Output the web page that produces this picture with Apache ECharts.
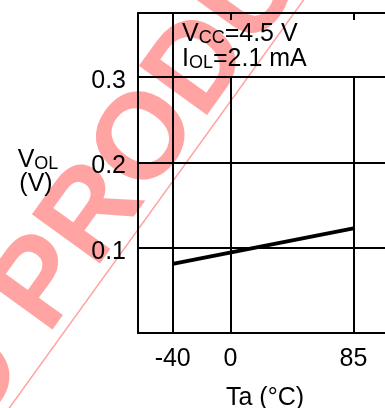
<!DOCTYPE html>
<html>
<head>
<meta charset="utf-8">
<script src="https://cdn.jsdelivr.net/npm/echarts@6/dist/echarts.min.js"></script>
<style>html,body{margin:0;padding:0;background:#fff}#c{width:385px;height:408px}</style>
</head>
<body>
<div id="c"></div>
<script>
// ---- data ----
const xTickValues = [-40, 0, 85];
const yTickValues = [0.1, 0.2, 0.3];
const temperatures = [-40, 85];
const volValues = [0.081, 0.1226];
const xAxisTitle = 'Ta (°C)';
const conditionLines = ['{a|V}{s|CC}{a|=4.5 V}', '{a|I}{s|OL}{a|=2.1 mA}'];
const watermarkWords = ['DISCONTINUED ', 'PRODUCT'];

const FONT = "'Liberation Sans', Arial, sans-serif";
const chart = echarts.init(document.getElementById('c'), null, {renderer: 'canvas'});

const xMin = -64, xMax = 120, yMin = 0, yMax = 0.375;
const boxBottom = yTickValues[yTickValues.length - 1];

const vLines = xTickValues.map((v, i) => [
  {coord: [v, yMin]},
  {coord: [v, i === 0 ? yMax : boxBottom]}
]);

// watermark geometry
const wmColor = '#ffa3a3';
const rot = 54.2 * Math.PI / 180;
const sn = Math.sin(rot), cs = Math.cos(rot);
const wmSize = 122;
const bx = 56, by = 342;                       // baseline start of "PRODUCT"
const up = 0.36 * wmSize;                      // baseline -> cap centre
const px = bx - sn * up, py = by - cs * up;
const slope = cs / sn;

const richMain = {
  a: {fontSize: 25, fontFamily: FONT, color: '#000'},
  s: {fontSize: 18, fontFamily: FONT, color: '#000', padding: [9, 0, 0, 0]}
};

chart.setOption({
  animation: false,
  grid: {left: 138, top: 13, width: 266, height: 320, containLabel: false, outerBoundsMode: 'none'},
  xAxis: [{
    type: 'value', position: 'bottom', min: xMin, max: xMax,
    axisLine: {show: true, onZero: false, lineStyle: {color: '#000', width: 2}},
    axisTick: {show: false},
    splitLine: {show: false},
    axisLabel: {customValues: xTickValues, margin: 14, color: '#000', fontSize: 25, fontFamily: FONT}
  }, {
    type: 'value', position: 'top', min: xMin, max: xMax,
    axisLine: {show: true, onZero: false, lineStyle: {color: '#000', width: 2}},
    axisTick: {show: true, inside: true, length: 7, customValues: xTickValues, lineStyle: {color: '#000', width: 2}},
    splitLine: {show: false},
    axisLabel: {show: false}
  }],
  yAxis: {
    type: 'value', min: yMin, max: yMax, interval: 0.1,
    axisLine: {show: true, onZero: false, lineStyle: {color: '#000', width: 2}},
    axisTick: {show: false},
    splitLine: {show: true, lineStyle: {color: '#000', width: 2}},
    axisLabel: {customValues: yTickValues, margin: 12, color: '#000', fontSize: 25, fontFamily: FONT,
                verticalAlign: 'top', lineHeight: 8}
  },
  series: [{
    type: 'line', z: 1, data: [], silent: true,
    markLine: {
      silent: true, symbol: 'none', label: {show: false},
      lineStyle: {color: '#000', width: 2, type: 'solid'},
      data: vLines
    }
  }, {
    type: 'line', z: 3,
    data: temperatures.map((t, i) => [t, volValues[i]]),
    symbol: 'none',
    lineStyle: {color: '#000', width: 4}
  }],
  graphic: [
    {type: 'line', z: -10, silent: true,
     shape: {x1: 10 - slope * 20, y1: 427, x2: 10 + slope * 427, y2: -20},
     style: {stroke: wmColor, lineWidth: 1.5}},
    {type: 'text', z: -10, silent: true, x: px, y: py, rotation: rot,
     style: {text: watermarkWords[1], font: 'bold ' + wmSize + 'px ' + FONT, fill: wmColor,
             align: 'left', verticalAlign: 'middle', textAlign: 'left', textVerticalAlign: 'middle'}},
    {type: 'text', z: -10, silent: true, x: px, y: py, rotation: rot,
     style: {text: watermarkWords[0], font: 'bold ' + wmSize + 'px ' + FONT, fill: wmColor,
             align: 'right', verticalAlign: 'middle', textAlign: 'right', textVerticalAlign: 'middle'}},
    {type: 'text', silent: true, x: 182, y: 34,
     style: {text: conditionLines[0], rich: richMain, align: 'left', verticalAlign: 'middle', textAlign: 'left', textVerticalAlign: 'middle'}},
    {type: 'text', silent: true, x: 182, y: 59,
     style: {text: conditionLines[1], rich: richMain, align: 'left', verticalAlign: 'middle', textAlign: 'left', textVerticalAlign: 'middle'}},
    {type: 'text', silent: true, x: 38, y: 160,
     style: {text: '{a|V}{s|OL}', rich: richMain, align: 'center', verticalAlign: 'middle', textAlign: 'center', textVerticalAlign: 'middle'}},
    {type: 'text', silent: true, x: 36, y: 184,
     style: {text: '(V)', font: '25px ' + FONT, fill: '#000', align: 'center', verticalAlign: 'middle', textAlign: 'center', textVerticalAlign: 'middle'}},
    {type: 'text', silent: true, x: 265, y: 398,
     style: {text: xAxisTitle, font: '25px ' + FONT, fill: '#000', align: 'center', verticalAlign: 'middle', textAlign: 'center', textVerticalAlign: 'middle'}}
  ]
});
</script>
</body>
</html>
